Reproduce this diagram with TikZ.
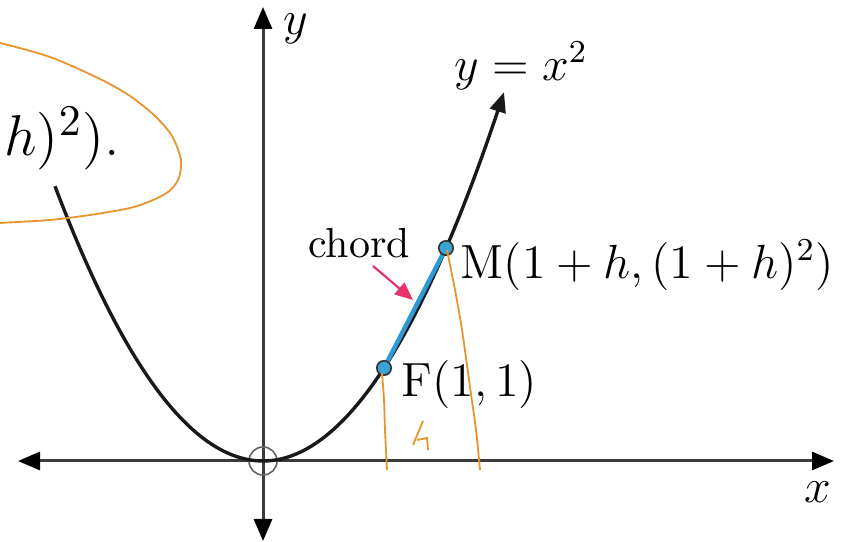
\documentclass[tikz,border=0pt]{standalone}
\usetikzlibrary{arrows.meta}
\definecolor{chordblue}{HTML}{2A9BD3}
\definecolor{dotblue}{HTML}{3AA3D4}
\definecolor{pinkred}{HTML}{E6336B}
\definecolor{penorange}{HTML}{E8942A}
\definecolor{axisgray}{HTML}{3C3C3C}
\tikzset{
  axisline/.style={draw=axisgray,line width=0.75pt,
    {Triangle[length=5.5pt,width=4.5pt,color=black]}-{Triangle[length=5.5pt,width=4.5pt,color=black]}},
  curveline/.style={draw=black!90,line width=0.85pt,-{Triangle[length=5pt,width=4pt]}},
  chordline/.style={draw=chordblue,line width=1.1pt},
  dotmark/.style={circle,fill=dotblue,draw=black!80,line width=0.4pt,minimum size=3.6pt,inner sep=0pt},
  pinkarrow/.style={draw=pinkred,line width=0.55pt,-{Triangle[length=4.5pt,width=3.8pt]}},
  pen/.style={draw=penorange,line width=0.45pt},
  lab/.style={inner sep=0pt,font=\fontsize{11.8}{14}\selectfont}
}
\begin{document}
\begin{tikzpicture}[x=0.25pt,y=-0.25pt]
\clip (0,0) rectangle (844,542);
% axes
\coordinate (xl) at (18,461);
\coordinate (xr) at (834,461);
\coordinate (yb) at (263,541);
\coordinate (yt) at (263,7);
\draw[axisline] (xl) -- (xr);
\draw[axisline] (yb) -- (yt);
\node[circle,draw=axisgray!80,line width=0.4pt,minimum size=7pt,inner sep=0pt] (O) at (263,461) {};
% parabola
\draw[curveline] plot[domain=55:504,samples=90] (\x,{461-63.5*((\x-263)/100)^2});
% chord
\coordinate (Fp) at (384,368);
\coordinate (Mp) at (446,248);
\draw[chordline] (Fp) -- (Mp);
\node[dotmark] (F) at (Fp) {};
\node[dotmark] (M) at (Mp) {};
% labels
\node[lab,anchor=west] (ylab) at (283,29) {$y$};
\node[lab] (eq) at (521,66) {$y=x^2$};
\node[lab] (xlab) at (818,492) {$x$};
\node[lab,font=\fontsize{10.5}{12}\selectfont] (chordlab) at (359,243) {chord};
\coordinate (ca) at (373,266);
\coordinate (cb) at (413,300);
\draw[pinkarrow] (ca) -- (cb);
\node[lab,anchor=west] (Mlab) at (460,265) {$\mathrm{M}(1+h,(1+h)^2)$};
\node[lab,anchor=west] (Flab) at (401,385) {$\mathrm{F}(1,1)$};
\node[inner sep=0pt,anchor=base east,font=\fontsize{15.5}{18}\selectfont] (frag) at (121,156) {$h)^2)$.};
% handwriting
\draw[pen] plot[smooth] coordinates {(-10,42) (0,43) (50,57) (100,79) (130,96) (155,116) (172,136) (181,160) (178,180) (165,194) (130,208) (60,219) (0,223) (-10,224)};
\draw[pen] plot[smooth] coordinates {(382,373) (384,400) (385,430) (387,470)};
\draw[pen] plot[smooth] coordinates {(447,250) (455,290) (462,330) (470,387) (476,430) (480,470)};
\draw[pen] (423,421) -- (413,445);
\draw[pen] (417,440) -- (427,438) -- (428,450);
\end{tikzpicture}
\end{document}
